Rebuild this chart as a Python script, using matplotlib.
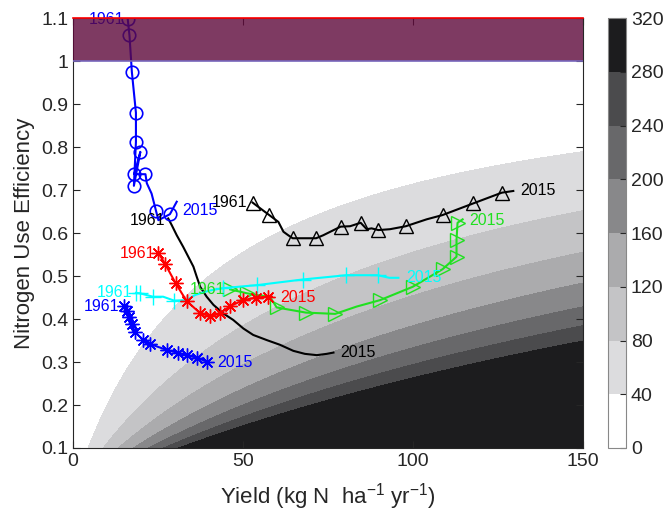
import numpy as np
import matplotlib
matplotlib.use("Agg")
import matplotlib.pyplot as plt
from matplotlib.colors import ListedColormap, BoundaryNorm
from matplotlib.cm import ScalarMappable

plt.rcParams['font.family'] = ['Liberation Sans', 'DejaVu Sans']
plt.rcParams['mathtext.fontset'] = 'custom'
plt.rcParams['mathtext.rm'] = 'Liberation Sans'
plt.rcParams['mathtext.it'] = 'Liberation Sans'

# ---- data ----
surplus_levels = [0, 40, 80, 120, 160, 200, 240, 280, 320]
surplus_colors = ['#FFFFFF', '#DCDCDE', '#C4C4C6', '#ABABAD', '#88888A',
                  '#68686A', '#4B4B4D', '#1C1C1E']

bc_x = [16.1, 16.6, 17.3, 18.5, 18.5, 17.9, 19.8, 18.0, 21.3, 21.7, 23.1, 24.4, 25.1, 28.5, 30.5]
bc_y = [1.097, 1.06, 0.975, 0.88, 0.812, 0.71, 0.789, 0.737, 0.737, 0.716, 0.692, 0.652, 0.630, 0.644, 0.673]
bc_mk = [0, 1, 2, 3, 4, 5, 6, 7, 8, 11, 13]

bk_x = [28.0, 29.0, 30.5, 32.4, 33.9, 35.4, 36.4, 37.4, 39.3, 41.3, 44.2, 47.1, 50.1, 53.0, 57.0, 60.9, 64.8, 68.2, 71.7, 74.6, 76.6]
bk_y = [0.634, 0.619, 0.595, 0.568, 0.545, 0.522, 0.498, 0.475, 0.452, 0.433, 0.413, 0.398, 0.378, 0.363, 0.351, 0.340, 0.326, 0.319, 0.316, 0.319, 0.322]

bt_x = [52.8, 57.7, 60.4, 61.9, 63.3, 64.6, 71.5, 73.6, 78.7, 81.5, 84.6, 86.4, 87.8, 89.8, 93.2, 97.9, 104.0, 108.7, 117.7, 126.1, 129.5]
bt_y = [0.671, 0.642, 0.626, 0.603, 0.595, 0.588, 0.588, 0.595, 0.615, 0.616, 0.624, 0.609, 0.611, 0.607, 0.609, 0.616, 0.632, 0.642, 0.669, 0.694, 0.698]
bt_mk = [0, 1, 5, 6, 8, 10, 13, 15, 17, 18, 19]

gr_x = [46.2, 51.1, 54.0, 57.9, 59.9, 68.5, 77.1, 83.4, 90.3, 99.9, 108.7, 112.8, 112.8, 113.1, 114.6]
gr_y = [0.469, 0.460, 0.456, 0.452, 0.427, 0.415, 0.412, 0.429, 0.444, 0.475, 0.516, 0.545, 0.585, 0.624, 0.632]
gr_mk = [0, 1, 4, 5, 6, 8, 9, 10, 11, 12, 13]

cy_x = [18.5, 19.6, 23.5, 26.5, 29.7, 33.4, 35.9, 40.0, 44.2, 54.2, 67.5, 80.4, 89.6, 93.0, 95.7]
cy_y = [0.461, 0.460, 0.452, 0.452, 0.443, 0.444, 0.456, 0.466, 0.472, 0.479, 0.492, 0.502, 0.502, 0.496, 0.496]
cy_mk = [0, 1, 2, 4, 8, 9, 10, 11, 12]

rd_x = [25.1, 27.1, 30.2, 33.4, 37.2, 40.3, 43.2, 46.2, 50.1, 53.8, 57.4, 58.5]
rd_y = [0.554, 0.528, 0.483, 0.442, 0.415, 0.406, 0.413, 0.430, 0.444, 0.450, 0.452, 0.452]
rd_mk = list(range(11))

db_x = [15.0, 15.8, 16.6, 17.3, 18.2, 20.7, 22.6, 27.6, 31.0, 33.4, 36.4, 39.3]
db_y = [0.430, 0.419, 0.405, 0.388, 0.370, 0.351, 0.342, 0.328, 0.321, 0.316, 0.310, 0.301]

# labels: (text, x, y, ha, color)
labels = [
    ('1961', 15.0, 1.097, 'right', 'blue'),
    ('2015', 32.0, 0.653, 'left', 'blue'),
    ('1961', 27.0, 0.630, 'right', 'black'),
    ('2015', 78.5, 0.321, 'left', 'black'),
    ('1961', 51.3, 0.672, 'right', 'black'),
    ('2015', 131.5, 0.700, 'left', 'black'),
    ('1961', 24.1, 0.553, 'right', 'red'),
    ('2015', 61.0, 0.451, 'left', 'red'),
    ('1961', 17.3, 0.461, 'right', 'cyan'),
    ('2015', 98.0, 0.496, 'left', 'cyan'),
    ('1961', 34.4, 0.469, 'left', '#20E020'),
    ('2015', 116.4, 0.629, 'left', '#20E020'),
    ('1961', 13.6, 0.430, 'right', 'blue'),
    ('2015', 42.5, 0.300, 'left', 'blue'),
]

fig = plt.figure(figsize=(6.64, 5.2), dpi=100)
ax = fig.add_axes([0.110, 0.1385, 0.768, 0.8265])

# background surplus field
yy = np.linspace(0.001, 150, 600)
nn = np.linspace(0.1, 1.1, 600)
Y, N = np.meshgrid(yy, nn)
S = Y * (1.0 / N - 1.0)
S = np.clip(S, -1, 319.9)
cmap = ListedColormap(surplus_colors)
lv = [-1] + surplus_levels[1:-1] + [320]
ax.contourf(Y, N, S, levels=lv, colors=surplus_colors, zorder=0)

asterisk = (8, 2, 0)
lw = 1.5
ax.plot(bk_x, bk_y, color='black', lw=lw, zorder=3)
ax.plot(bc_x, bc_y, color='blue', lw=lw, marker='o', markevery=bc_mk, ms=9,
        mfc='none', mew=1.2, zorder=3)
ax.plot(bt_x, bt_y, color='black', lw=lw, marker='^', markevery=bt_mk, ms=10,
        mfc='none', mew=1.0, zorder=3)
ax.plot(gr_x, gr_y, color='#20E020', lw=lw, marker='>', markevery=gr_mk, ms=10,
        mfc='none', mew=1.0, zorder=3)
ax.plot(cy_x, cy_y, color='cyan', lw=lw, marker='+', markevery=cy_mk, ms=11,
        mew=1.0, zorder=3)
ax.plot(rd_x, rd_y, color='red', lw=lw, marker=asterisk, markevery=rd_mk, ms=10,
        mew=1.0, zorder=3)
ax.plot(db_x, db_y, color='blue', lw=lw, marker=asterisk, ms=10,
        mew=1.0, zorder=3)

for t, x, y, ha, c in labels:
    ax.text(x, y, t, ha=ha, va='center', color=c, fontsize=11.5, zorder=4)

# NUE > 1 band
ax.fill_between([0, 150], 1.0, 1.1, color=(94/255, 9/255, 59/255), alpha=0.8,
                lw=0, zorder=5)
ax.plot([0, 150], [1.1, 1.1], color='red', lw=1.2, zorder=6, clip_on=False)
ax.plot([0, 150], [1.0, 1.0], color='#7766BB', lw=1.2, zorder=6)

ax.set_xlim(0, 150)
ax.set_ylim(0.1, 1.1)
ax.set_xticks([0, 50, 100, 150])
yt = [0.1, 0.2, 0.3, 0.4, 0.5, 0.6, 0.7, 0.8, 0.9, 1.0, 1.1]
ax.set_yticks(yt)
ax.set_yticklabels(['0.1', '0.2', '0.3', '0.4', '0.5', '0.6', '0.7', '0.8', '0.9', '1', '1.1'])
ax.tick_params(direction='in', top=True, right=True, labelsize=14,
               colors='#262626', length=5, width=0.8)
for sp in ax.spines.values():
    sp.set_color('#262626')
    sp.set_linewidth(0.8)
ax.set_xlabel(r'Yield (kg N  ha$^{-1}$ yr$^{-1}$)', fontsize=16, color='#262626',
              labelpad=8)
ax.set_ylabel('Nitrogen Use Efficiency', fontsize=16, color='#262626')

# colorbar
cax = fig.add_axes([0.9157, 0.1385, 0.027, 0.8265])
norm = BoundaryNorm(surplus_levels, cmap.N)
sm = ScalarMappable(norm=norm, cmap=cmap)
cb = fig.colorbar(sm, cax=cax, ticks=surplus_levels)
cb.ax.tick_params(labelsize=14, colors='#262626', direction='in', length=4, width=0.8)
cb.outline.set_edgecolor('#888888')
cb.outline.set_linewidth(0.8)

fig.savefig('out.png', dpi=100)
